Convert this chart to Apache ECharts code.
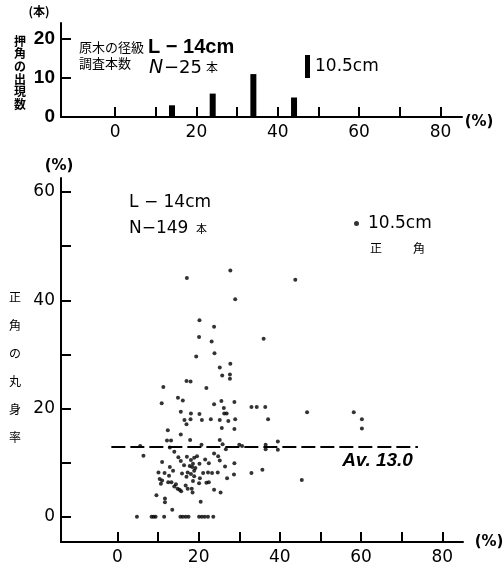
<!DOCTYPE html>
<html>
<head>
<meta charset="utf-8">
<script src="https://cdn.jsdelivr.net/npm/echarts@6/dist/echarts.min.js"></script>
<style>
html,body{margin:0;padding:0;background:#fff;}
#chart{width:504px;height:566px;}
</style>
</head>
<body>
<div id="chart"></div>
<script>
// ---- Top histogram: 押角の出現数 ----
const barPositions = [14, 24, 34, 44];          // %
const barCounts = [3, 6, 11, 5];                 // 本
const topXTicks = [0, 10, 20, 30, 40, 50, 60, 70, 80];
const topXLabels = [0, 20, 40, 60, 80];
const topYTicks = [10, 20];
const topYLabels = [0, 10, 20];

// ---- Bottom scatter: 正角の丸身率 ----
const rateData = [
  [27.8,45.5],[17.1,44.1],[43.8,43.8],[29.0,40.2],[20.2,36.3],[23.8,35.1],[20.1,33.2],[23.2,32.4],
  [36.0,32.9],[19.4,29.6],[23.9,30.2],[25.2,27.6],[27.8,28.3],[25.8,26.1],[27.7,26.3],[27.7,25.5],
  [17.0,25.1],[18.0,25.0],[11.3,24.0],[21.9,23.8],[10.9,21.0],[14.9,22.0],[16.1,21.5],[23.8,20.8],
  [25.6,21.4],[28.8,21.2],[26.2,20.1],[33.0,20.3],[34.3,20.3],[36.4,20.3],
  [26.3,19.1],[26.9,19.1],[15.6,19.4],[18.1,19.1],[20.2,19.0],[46.7,19.3],[58.2,19.3],[60.2,18.0],
  [60.2,16.3],[16.5,17.9],[18.0,18.0],[17.0,17.1],[20.8,17.9],[23.0,18.0],[25.2,17.9],[27.3,17.7],
  [29.0,18.0],[37.1,18.0],[12.4,16.0],[25.7,16.4],[28.8,16.2],[15.6,15.2],
  [12.2,14.1],[13.2,14.1],[17.9,14.2],[25.2,14.2],[12.9,12.8],[25.9,13.4],[26.7,12.5],[20.7,13.3],
  [5.6,13.1],[30.0,13.3],[30.7,13.1],[36.5,13.3],[36.5,12.5],[39.5,13.9],[39.5,12.4],
  [6.4,11.3],[23.8,11.7],[24.8,11.2],[14.0,12.0],[15.0,11.0],[11.0,10.1],[15.6,10.3],[17.1,11.1],
  [18.1,10.5],[18.9,10.9],[19.6,11.2],[17.8,9.4],[20.2,9.8],[22.5,9.9],[25.2,10.4],[26.5,9.3],
  [28.8,9.9],[12.9,9.2],[18.6,9.8],[18.4,9.2],[19.2,9.0],[16.4,9.5],[21.6,10.6],
  [10.1,8.2],[11.6,8.1],[12.7,7.6],[13.7,8.5],[15.9,8.0],[17.3,8.2],[18.1,7.9],[18.9,8.5],
  [18.9,7.5],[21.1,8.1],[22.3,8.2],[23.3,8.1],[24.7,8.2],[28.7,7.8],[27.0,7.1],[33.0,8.1],
  [35.7,8.7],[20.3,7.1],[17.0,7.4],
  [10.4,7.0],[11.0,6.7],[10.7,6.1],[12.5,6.4],[13.3,6.4],[14.4,6.0],[14.0,5.6],[14.8,5.2],
  [15.3,5.0],[15.7,4.7],[16.8,5.8],[17.3,5.2],[18.3,5.2],[18.6,6.6],[20.1,6.2],[21.9,6.3],
  [22.5,6.4],[23.8,5.0],[25.4,4.5],[45.4,6.8],[18.5,4.5],
  [9.6,4.0],[11.7,3.4],[11.7,2.7],[20.5,2.8],[13.5,1.3],
  [4.8,0],[8.4,0],[8.9,0],[9.4,0],[11.5,0],[15.5,0],[16.1,0],[16.8,0],[17.5,0],
  [20.1,0],[20.8,0],[21.5,0],[22.3,0],[23.6,0]
];
const averageRate = 13.0;
const averageSpan = [-1.5, 74];
const mainXTicks = [0, 10, 20, 30, 40, 50, 60, 70, 80];
const mainXLabels = [0, 20, 40, 60, 80];
const mainYTicks = [0, 10, 20, 30, 40, 50, 60];
const mainYLabels = [0, 20, 40, 60];

const LATIN = '"DejaVu Sans", "Noto Sans", sans-serif';
const ARIAL = '"Liberation Sans", Arial, sans-serif';
const CJK = '"Noto Sans CJK JP", sans-serif';

const chart = echarts.init(document.getElementById('chart'), null, {renderer: 'canvas'});

const axisLineStyle = {show: true, onZero: false, lineStyle: {color: '#000', width: 2}};
const tickStyle = (vals) => ({show: true, inside: true, length: 10, customValues: vals, lineStyle: {color: '#000', width: 2}});

const option = {
  animation: false,
  backgroundColor: '#fff',
  grid: [
    {left: 61, top: 23, width: 401, height: 94},
    {left: 61, top: 178, width: 402, height: 365}
  ],
  xAxis: [
    {gridIndex: 0, type: 'value', min: -13.3, max: 85.3,
     axisLine: axisLineStyle, axisTick: tickStyle(topXTicks),
     axisLabel: {customValues: topXLabels, margin: 7, color: '#000', fontSize: 17, fontFamily: LATIN},
     splitLine: {show: false}},
    {gridIndex: 1, type: 'value', min: -13.9, max: 85.1,
     axisLine: axisLineStyle, axisTick: tickStyle(mainXTicks),
     axisLabel: {customValues: mainXLabels, margin: 7, color: '#000', fontSize: 17, fontFamily: LATIN},
     splitLine: {show: false}}
  ],
  yAxis: [
    {gridIndex: 0, type: 'value', min: 0, max: 24.1,
     axisLine: axisLineStyle, axisTick: tickStyle(topYTicks),
     axisLabel: {customValues: topYLabels, margin: 6, color: '#000', fontSize: 19, fontWeight: 'bold', fontFamily: ARIAL},
     splitLine: {show: false}},
    {gridIndex: 1, type: 'value', min: -4.66, max: 62.6,
     axisLine: axisLineStyle, axisTick: tickStyle(mainYTicks),
     axisLabel: {customValues: mainYLabels, margin: 6, color: '#000', fontSize: 17, fontFamily: LATIN},
     splitLine: {show: false}}
  ],
  legend: [
    {data: ['押角'], left: 305, top: 55, padding: 0, icon: 'rect', itemWidth: 5, itemHeight: 23,
     formatter: () => '10.5cm', selectedMode: false,
     textStyle: {color: '#000', fontSize: 17, fontFamily: LATIN, padding: [5, 0, 0, 0]}},
    {data: ['正角'], left: 354, top: 215, padding: 0, icon: 'circle', itemWidth: 5, itemHeight: 5,
     formatter: () => '10.5cm', selectedMode: false,
     textStyle: {color: '#000', fontSize: 17, fontFamily: LATIN, padding: [0, 0, 0, 4]}}
  ],
  series: [
    {name: '押角', type: 'bar', xAxisIndex: 0, yAxisIndex: 0, barWidth: 6,
     itemStyle: {color: '#000'},
     data: barPositions.map((x, i) => [x, barCounts[i]])},
    {name: '正角', type: 'scatter', xAxisIndex: 1, yAxisIndex: 1, symbolSize: 4,
     itemStyle: {color: '#000'}, data: rateData,
     markLine: {silent: true, symbol: 'none',
       lineStyle: {color: '#000', width: 2, type: [14, 5]},
       label: {show: true, position: 'insideEndBottom', formatter: 'Av. ' + averageRate.toFixed(1),
               color: '#000', fontSize: 19, fontStyle: 'italic', fontWeight: 'bold', fontFamily: ARIAL, distance: 5,
               padding: [0, 0, 0, 0]},
       data: [[{coord: [averageSpan[0], averageRate]}, {coord: [averageSpan[1], averageRate]}]]}}
  ],
  graphic: [
    {type: 'text', style: {text: '(本)', x: 39, y: 11, align: 'center', verticalAlign: 'middle', font: 'bold 12px ' + CJK, fill: '#000'}},
    {type: 'text', style: {text: '押\n角\nの\n出\n現\n数', x: 20, y: 35, align: 'center', verticalAlign: 'top', font: 'bold 12px ' + CJK, lineHeight: 12.6, fill: '#000'}},
    {type: 'text', style: {text: '原木の径級', x: 79, y: 47, align: 'left', verticalAlign: 'middle', font: '13px ' + CJK, fill: '#000'}},
    {type: 'text', style: {text: '調査本数', x: 79, y: 63, align: 'left', verticalAlign: 'middle', font: '13px ' + CJK, fill: '#000'}},
    {type: 'text', style: {text: 'L − 14cm', x: 148, y: 47, align: 'left', verticalAlign: 'middle', font: 'bold 20px ' + ARIAL, fill: '#000'}},
    {type: 'text', style: {text: 'N', x: 149, y: 68, align: 'left', verticalAlign: 'middle', font: 'italic 19px ' + LATIN, fill: '#000'}},
    {type: 'text', style: {text: '−25', x: 164, y: 68, align: 'left', verticalAlign: 'middle', font: '18px ' + LATIN, fill: '#000'}},
    {type: 'text', style: {text: '本', x: 206, y: 67, align: 'left', verticalAlign: 'middle', font: '12px ' + CJK, fill: '#000'}},
    {type: 'text', style: {text: '(%)', x: 479, y: 122, align: 'center', verticalAlign: 'middle', font: 'bold 15px ' + LATIN, fill: '#000'}},
    {type: 'text', style: {text: '(%)', x: 59, y: 166, align: 'center', verticalAlign: 'middle', font: 'bold 15px ' + LATIN, fill: '#000'}},
    {type: 'text', style: {text: '(%)', x: 489, y: 542, align: 'center', verticalAlign: 'middle', font: 'bold 15px ' + LATIN, fill: '#000'}},
    {type: 'text', style: {text: '正\n角\nの\n丸\n身\n率', x: 15, y: 283, align: 'center', verticalAlign: 'top', font: '12px ' + CJK, lineHeight: 28, fill: '#000'}},
    {type: 'text', style: {text: 'L − 14cm', x: 129, y: 203, align: 'left', verticalAlign: 'middle', font: '17px ' + LATIN, fill: '#000'}},
    {type: 'text', style: {text: 'N−149', x: 129, y: 229, align: 'left', verticalAlign: 'middle', font: '17px ' + LATIN, fill: '#000'}},
    {type: 'text', style: {text: '本', x: 196, y: 229, align: 'left', verticalAlign: 'middle', font: '11px ' + CJK, fill: '#000'}},
    {type: 'text', style: {text: '正', x: 376, y: 248, align: 'center', verticalAlign: 'middle', font: '12px ' + CJK, fill: '#000'}},
    {type: 'text', style: {text: '角', x: 419, y: 248, align: 'center', verticalAlign: 'middle', font: '12px ' + CJK, fill: '#000'}}
  ]
};
chart.setOption(option);
</script>
</body>
</html>
